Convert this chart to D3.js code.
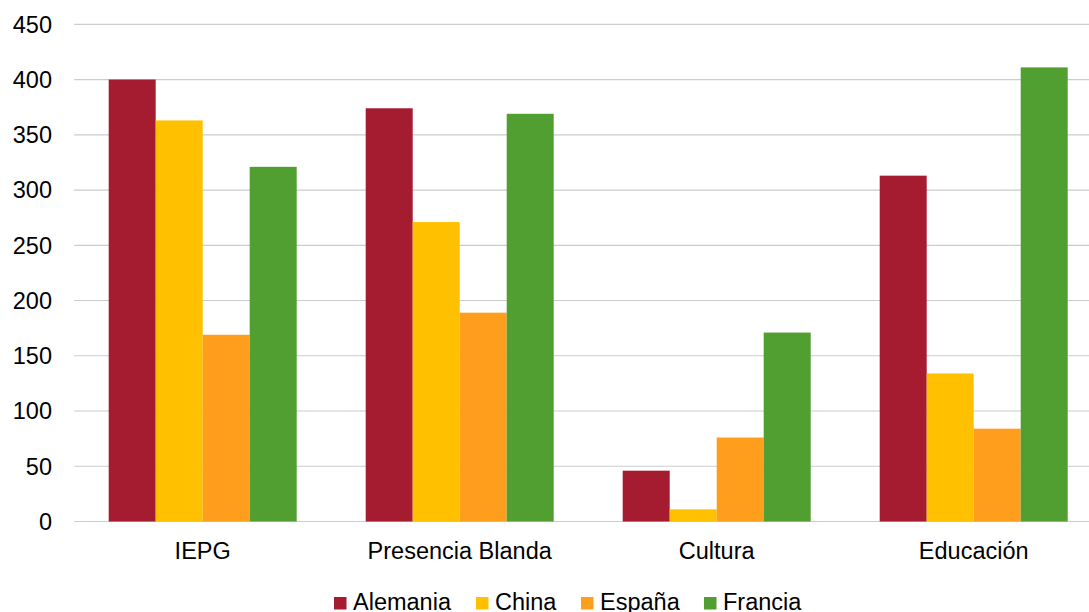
<!DOCTYPE html>
<html><head><meta charset="utf-8">
<script src="https://cdn.jsdelivr.net/npm/d3@7/dist/d3.min.js"></script>
<style>body{margin:0;background:#fff}svg{display:block;font-family:"Liberation Sans",Arial,sans-serif}</style>
</head><body><svg id="c" width="1089" height="612"></svg>
<script>
const categories = ["IEPG", "Presencia Blanda", "Cultura", "Educación"];
const seriesNames = ["Alemania", "China", "España", "Francia"];
const alemania = [400, 374, 46, 313];
const china = [363, 271, 11, 134];
const espana = [169, 189, 76, 84];
const francia = [321, 369, 171, 411];
const yTicks = [0, 50, 100, 150, 200, 250, 300, 350, 400, 450];
const colors = ["#A51B30", "#FFC000", "#FF9E1D", "#519F31"];

const series = [alemania, china, espana, francia];
const svg = d3.select("#c");
const L = 74.2, R = 1102.2, T = 24.3, B = 521.5;
const x = d3.scaleBand().domain(categories).range([L, R]).paddingInner(0).paddingOuter(0);
const y = d3.scaleLinear().domain([0, 450]).range([B, T]);
const groupW = 188;
const xs = d3.scaleBand().domain(seriesNames).range([0, groupW]);

svg.append("g").selectAll("line").data(yTicks).join("line")
  .attr("x1", L).attr("x2", R).attr("y1", d => y(d)).attr("y2", d => y(d))
  .attr("stroke", "#C9CDCD").attr("stroke-width", 1.2);

svg.append("g").selectAll("text").data(yTicks).join("text")
  .attr("x", 52).attr("y", d => y(d)).attr("dy", "0.36em")
  .attr("text-anchor", "end").attr("font-size", 23.5).attr("fill", "#000").text(d => d);

const g = svg.append("g");
categories.forEach((c, ci) => {
  const gx = x(c) + (x.bandwidth() - groupW) / 2;
  seriesNames.forEach((s, si) => {
    const v = series[si][ci];
    g.append("rect")
      .attr("x", gx + xs(s)).attr("width", xs.bandwidth())
      .attr("y", y(v)).attr("height", y(0) - y(v))
      .attr("fill", colors[si]);
  });
});

svg.append("g").selectAll("text").data(categories).join("text")
  .attr("x", d => x(d) + x.bandwidth() / 2).attr("y", 559)
  .attr("text-anchor", "middle").attr("font-size", 23.5).attr("fill", "#000").text(d => d);

const legX = [334, 476, 581, 704];
const lg = svg.append("g");
seriesNames.forEach((s, i) => {
  lg.append("rect").attr("x", legX[i]).attr("y", 597).attr("width", 12.5).attr("height", 12.5).attr("fill", colors[i]);
  lg.append("text").attr("x", legX[i] + 19).attr("y", 610).attr("font-size", 23.5).attr("fill", "#000").text(s);
});
</script></body></html>
